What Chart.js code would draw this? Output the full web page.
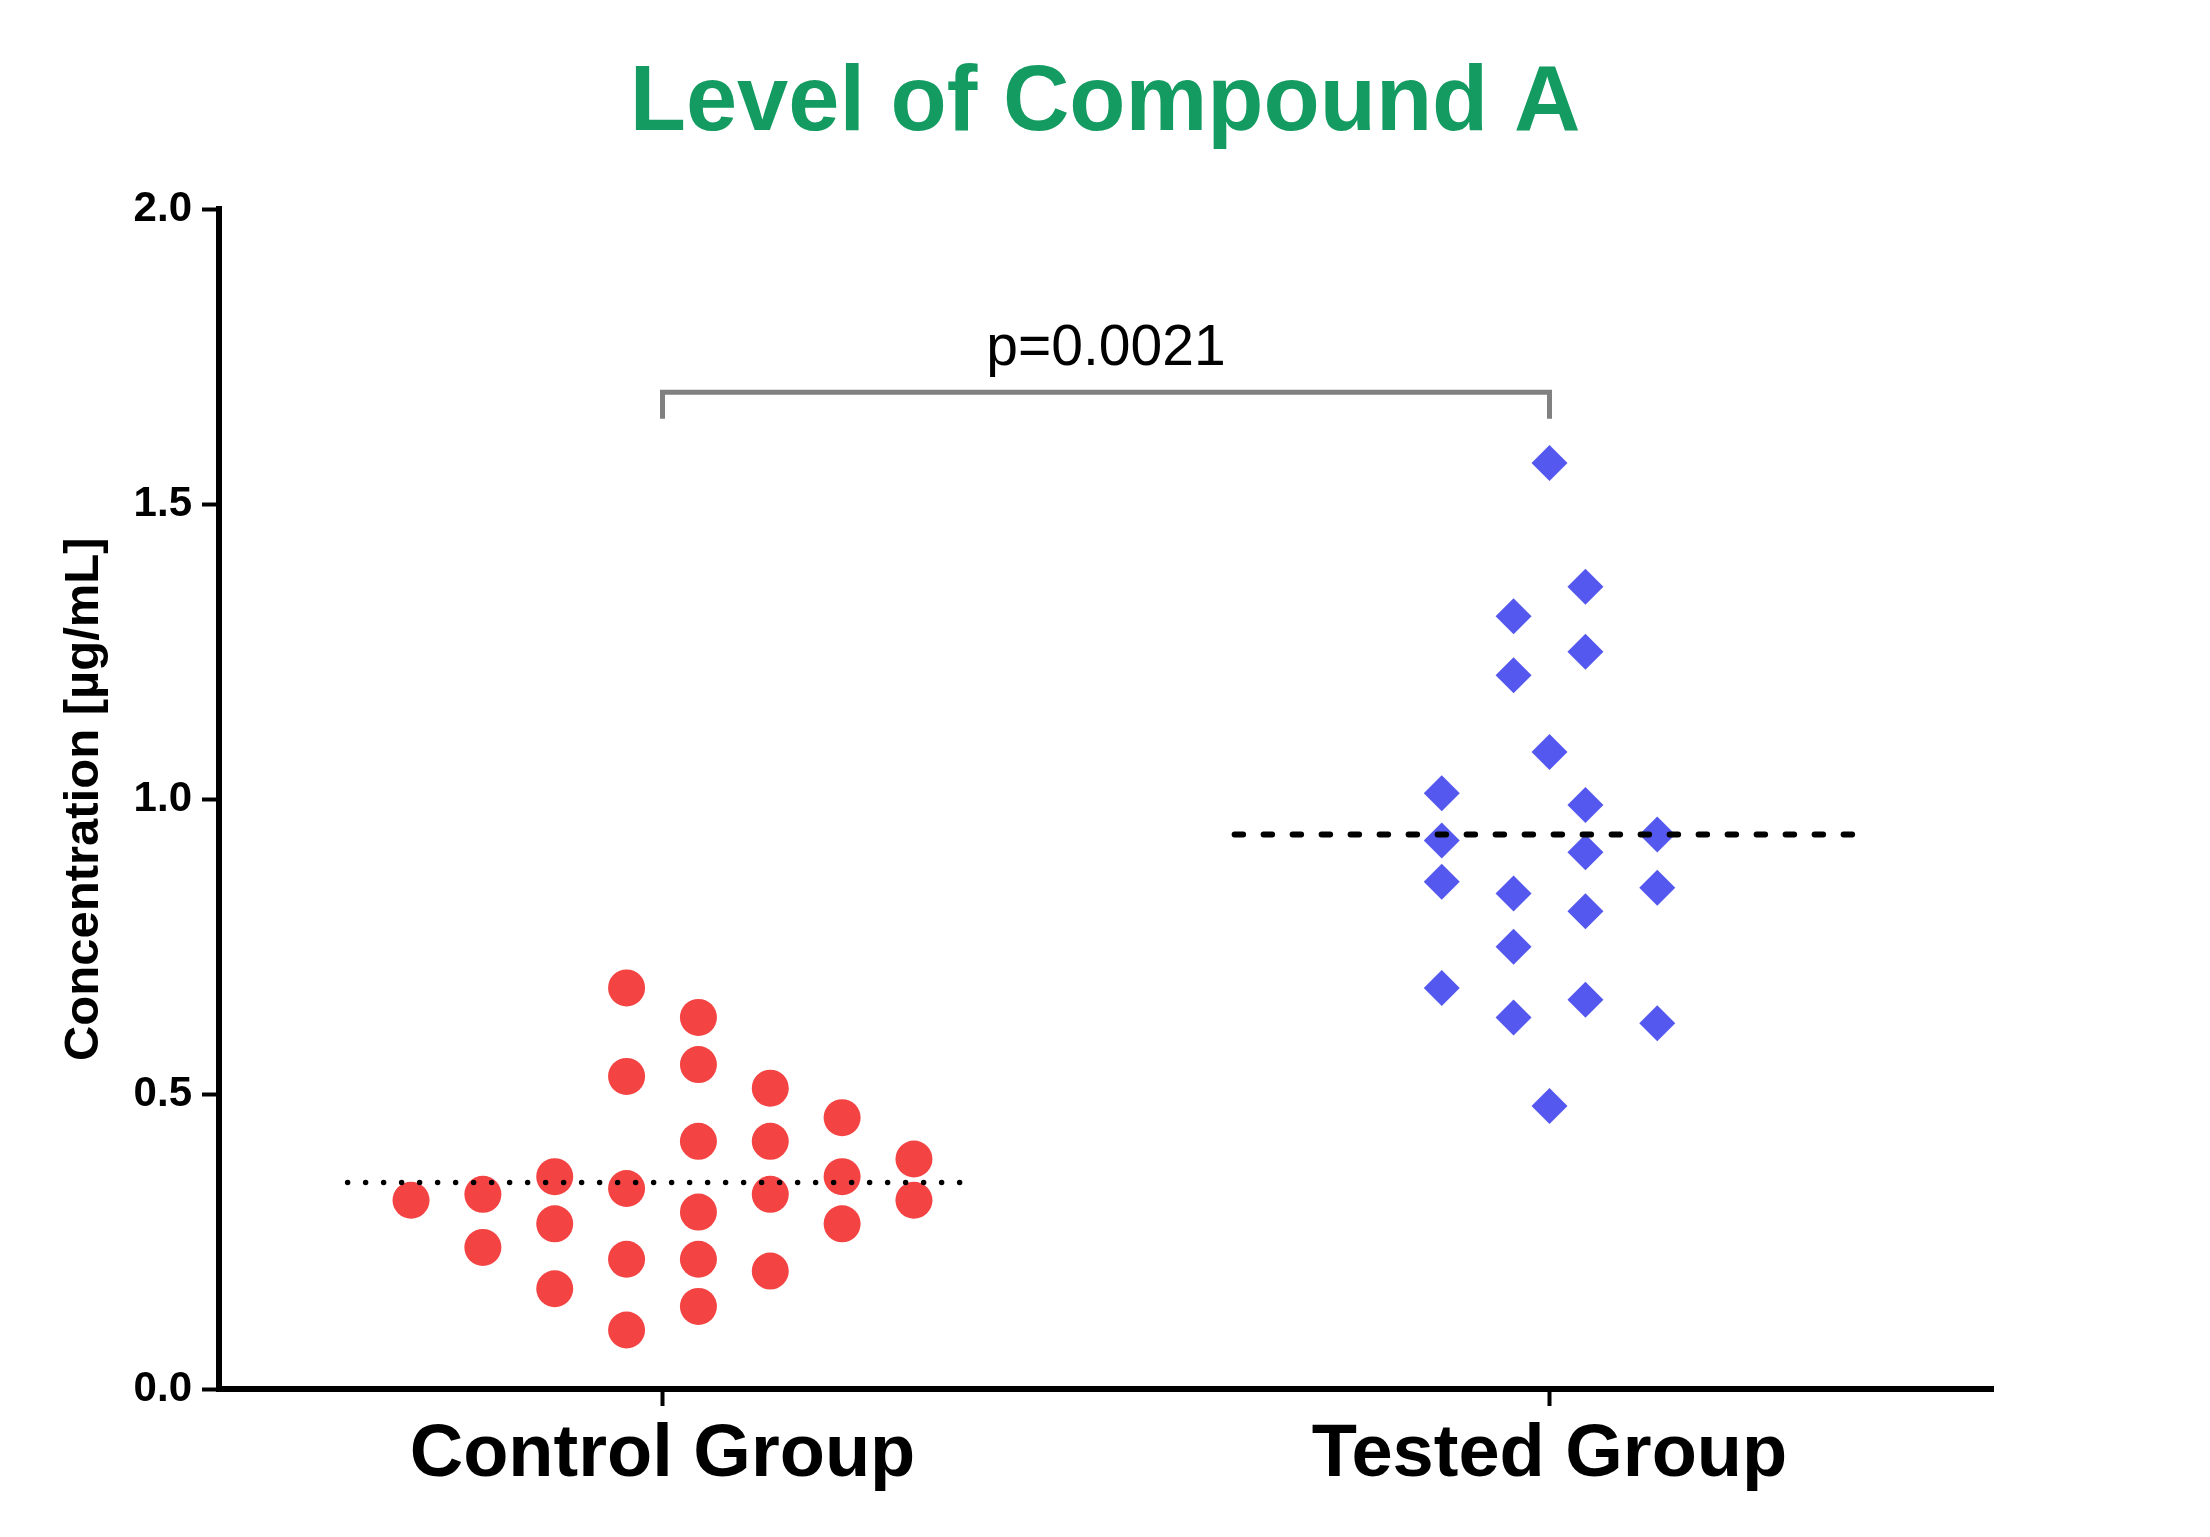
<!DOCTYPE html>
<html>
<head>
<meta charset="utf-8">
<title>Level of Compound A</title>
<script src="https://cdn.jsdelivr.net/npm/chart.js@4.4.1/dist/chart.umd.min.js"></script>
<style>
  html, body { margin: 0; padding: 0; background: #fff; }
  #wrap { width: 2210px; height: 1537px; }
</style>
</head>
<body>
<div id="wrap"><canvas id="chart" width="2210" height="1537"></canvas></div>
<script>
// Categories on the x axis
const groups = ['Control Group', 'Tested Group'];

// Control group readings (µg/mL) and the swarm column each one sits in
const controlValues = [0.32, 0.33, 0.24, 0.36, 0.28, 0.17, 0.68, 0.53, 0.34, 0.22, 0.10,
    0.63, 0.55, 0.42, 0.30, 0.22, 0.14, 0.51, 0.42, 0.33, 0.20, 0.46, 0.36, 0.28, 0.39, 0.32];
const controlSlots = [-7, -5, -5, -3, -3, -3, -1, -1, -1, -1, -1,
    1, 1, 1, 1, 1, 1, 3, 3, 3, 3, 5, 5, 5, 7, 7];

// Tested group readings (µg/mL)
const testedValues = [1.57, 1.36, 1.31, 1.25, 1.21, 1.08, 1.01, 0.99, 0.94, 0.93, 0.91,
    0.86, 0.84, 0.85, 0.81, 0.75, 0.68, 0.63, 0.66, 0.62, 0.48];
const testedSlots = [0, 1, -1, 1, -1, 0, -3, 1, 3, -3, 1,
    -3, -1, 3, 1, -1, -3, -1, 1, 3, 0];

// Central line of each group (dotted for control, dashed for tested)
const centerValues = [0.35, 0.94];

// Significance bracket
const pValueLabel = 'p=0.0021';
const bracketTop = 1.69;
const bracketFoot = 1.645;

const yTicks = [0, 0.5, 1.0, 1.5, 2.0];

// layout helpers
const slotWidth = 0.0405;
const lineHalf = 0.355;
const fontFamily = '"Liberation Sans", Arial, Helvetica, sans-serif';

Chart.defaults.font.family = fontFamily;
Chart.defaults.color = '#000';

function swarm(values, slots, groupIndex) {
    return values.map((v, i) => ({ x: groupIndex + slots[i] * slotWidth, y: v }));
}

function centerLine(groupIndex) {
    const y = centerValues[groupIndex];
    return [{ x: groupIndex - lineHalf, y: y }, { x: groupIndex + lineHalf, y: y }];
}

// Draws the p-value above the bracket
const pValuePlugin = {
    id: 'pValue',
    afterDatasetsDraw(chart) {
        const { ctx, scales } = chart;
        ctx.save();
        ctx.font = '57px ' + fontFamily;
        ctx.fillStyle = '#000';
        ctx.textAlign = 'center';
        ctx.textBaseline = 'alphabetic';
        ctx.fillText(pValueLabel, scales.x.getPixelForValue(0.5), scales.y.getPixelForValue(bracketTop) - 27);
        ctx.restore();
    }
};

const axisGrid = { drawOnChartArea: false, drawTicks: true, tickLength: 17, tickWidth: 4, tickColor: '#000' };
const axisBorder = { display: true, color: '#000', width: 6 };

new Chart(document.getElementById('chart'), {
    type: 'scatter',
    data: {
        datasets: [
            {
                label: 'Control Group',
                data: swarm(controlValues, controlSlots, 0),
                pointStyle: 'circle',
                pointRadius: 18.5,
                pointBackgroundColor: '#f44343',
                pointBorderWidth: 0,
                order: 2
            },
            {
                label: 'Tested Group',
                data: swarm(testedValues, testedSlots, 1),
                pointStyle: 'rectRot',
                pointRadius: 18,
                pointBackgroundColor: '#5558ef',
                pointBorderWidth: 0,
                order: 2
            },
            {
                label: 'Control center',
                data: centerLine(0),
                showLine: true,
                pointRadius: 0,
                borderColor: '#000',
                borderWidth: 5.5,
                borderDash: [0, 18],
                borderCapStyle: 'round',
                order: 1
            },
            {
                label: 'Tested center',
                data: centerLine(1),
                showLine: true,
                pointRadius: 0,
                borderColor: '#000',
                borderWidth: 6,
                borderDash: [8.5, 20.5],
                borderCapStyle: 'round',
                order: 1
            },
            {
                label: 'bracket',
                data: [
                    { x: 0, y: bracketFoot }, { x: 0, y: bracketTop },
                    { x: 1, y: bracketTop }, { x: 1, y: bracketFoot }
                ],
                showLine: true,
                pointRadius: 0,
                borderColor: '#808080',
                borderWidth: 5,
                borderJoinStyle: 'miter',
                order: 1
            }
        ]
    },
    options: {
        responsive: false,
        devicePixelRatio: 1,
        animation: false,
        events: [],
        layout: { padding: 0 },
        plugins: {
            legend: { display: false },
            tooltip: { enabled: false },
            title: {
                display: true,
                text: 'Level of Compound A',
                color: '#149b62',
                font: { size: 92, weight: 'bold', lineHeight: 1.2 },
                padding: { top: 49, bottom: 50 }
            }
        },
        scales: {
            x: {
                type: 'linear',
                min: -0.5,
                max: 1.5,
                afterBuildTicks: s => { s.ticks = groups.map((g, i) => ({ value: i })); },
                afterFit: s => { s.height = 148; },
                grid: axisGrid,
                border: axisBorder,
                ticks: {
                    callback: v => groups[v],
                    font: { size: 74, weight: 'bold', lineHeight: 1 },
                    padding: 13,
                    maxRotation: 0,
                    autoSkip: false
                }
            },
            y: {
                type: 'linear',
                min: 0,
                max: 2,
                afterBuildTicks: s => { s.ticks = yTicks.map(v => ({ value: v })); },
                afterFit: s => { s.width = 219; },
                grid: axisGrid,
                border: axisBorder,
                ticks: {
                    callback: v => v.toFixed(1),
                    font: { size: 42, weight: 'bold', lineHeight: 1 },
                    padding: 10
                },
                title: {
                    display: true,
                    text: 'Concentration [µg/mL]',
                    font: { size: 49, weight: 'bold', lineHeight: 1 },
                    padding: { top: 60, bottom: 0 }
                }
            },
            // empty right-hand margin so the title centres on the whole figure
            margin: {
                type: 'linear',
                position: 'right',
                afterFit: s => { s.width = 217; },
                grid: { display: false },
                border: { display: false },
                ticks: { display: false }
            }
        }
    },
    plugins: [pValuePlugin]
});
</script>
</body>
</html>
